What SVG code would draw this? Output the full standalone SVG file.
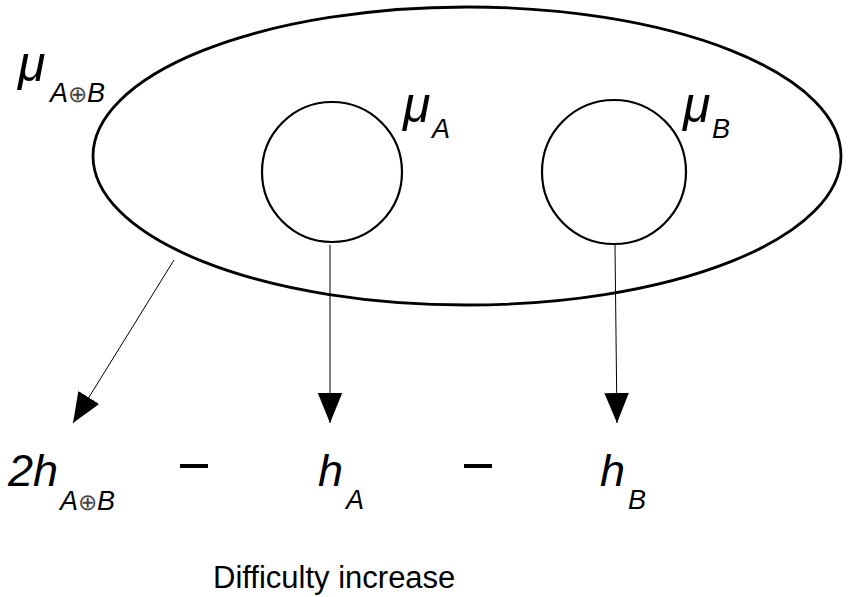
<svg xmlns="http://www.w3.org/2000/svg" width="855" height="597" viewBox="0 0 855 597">
<style>
.t{font-family:"Liberation Sans",Arial,sans-serif;fill:#000}
.i{font-style:italic}
.sh{fill:none;stroke:#000}
.c{stroke:#000;stroke-width:1;fill:none}
.op{font-style:normal;fill:#444}
</style>
<defs>
<marker id="ah" markerUnits="userSpaceOnUse" markerWidth="30" markerHeight="30" refX="27" refY="11" orient="auto" viewBox="0 0 27 22">
<path d="M0,0 L27,11 L0,22 Z" fill="#000"/>
</marker>
</defs>
<rect width="855" height="597" fill="#fff"/>
<g id="ellipseAB"><ellipse class="sh" stroke-width="2.8" cx="467" cy="156" rx="374" ry="149"/>
<text class="t i" x="18" y="81" font-size="50">μ</text>
<text class="t i" x="50" y="102" font-size="27">A<tspan class="op" font-size="23">⊕</tspan>B</text></g>
<g id="circleA"><circle class="sh" stroke-width="2.2" cx="332" cy="172" r="70"/>
<text class="t i" x="403" y="122" font-size="50">μ</text>
<text class="t i" x="432" y="138" font-size="27">A</text></g>
<g id="circleB"><circle class="sh" stroke-width="2.2" cx="614" cy="172" r="72"/>
<text class="t i" x="683" y="122" font-size="50">μ</text>
<text class="t i" x="712" y="138" font-size="27">B</text></g>
<g id="connectors">
<line class="c" x1="174" y1="260" x2="73" y2="423" marker-end="url(#ah)"/>
<line class="c" x1="330" y1="245" x2="330" y2="423" marker-end="url(#ah)"/>
<line class="c" x1="615" y1="245" x2="617" y2="423" marker-end="url(#ah)"/>
</g>
<g id="hAB"><text class="t i" x="8" y="486" font-size="45">2h</text>
<text class="t i" x="60" y="510" font-size="27">A<tspan class="op" font-size="23">⊕</tspan>B</text></g>
<g id="minus1"><rect x="180" y="464" width="28" height="4" fill="#000"/></g>
<g id="hA"><text class="t i" x="318" y="486" font-size="45">h</text>
<text class="t i" x="346" y="509" font-size="27">A</text></g>
<g id="minus2"><rect x="464" y="464" width="28" height="4" fill="#000"/></g>
<g id="hB"><text class="t i" x="600" y="486" font-size="45">h</text>
<text class="t i" x="628" y="509" font-size="27">B</text></g>
<g id="caption"><text class="t" x="213" y="588" font-size="31">Difficulty increase</text></g>
</svg>
